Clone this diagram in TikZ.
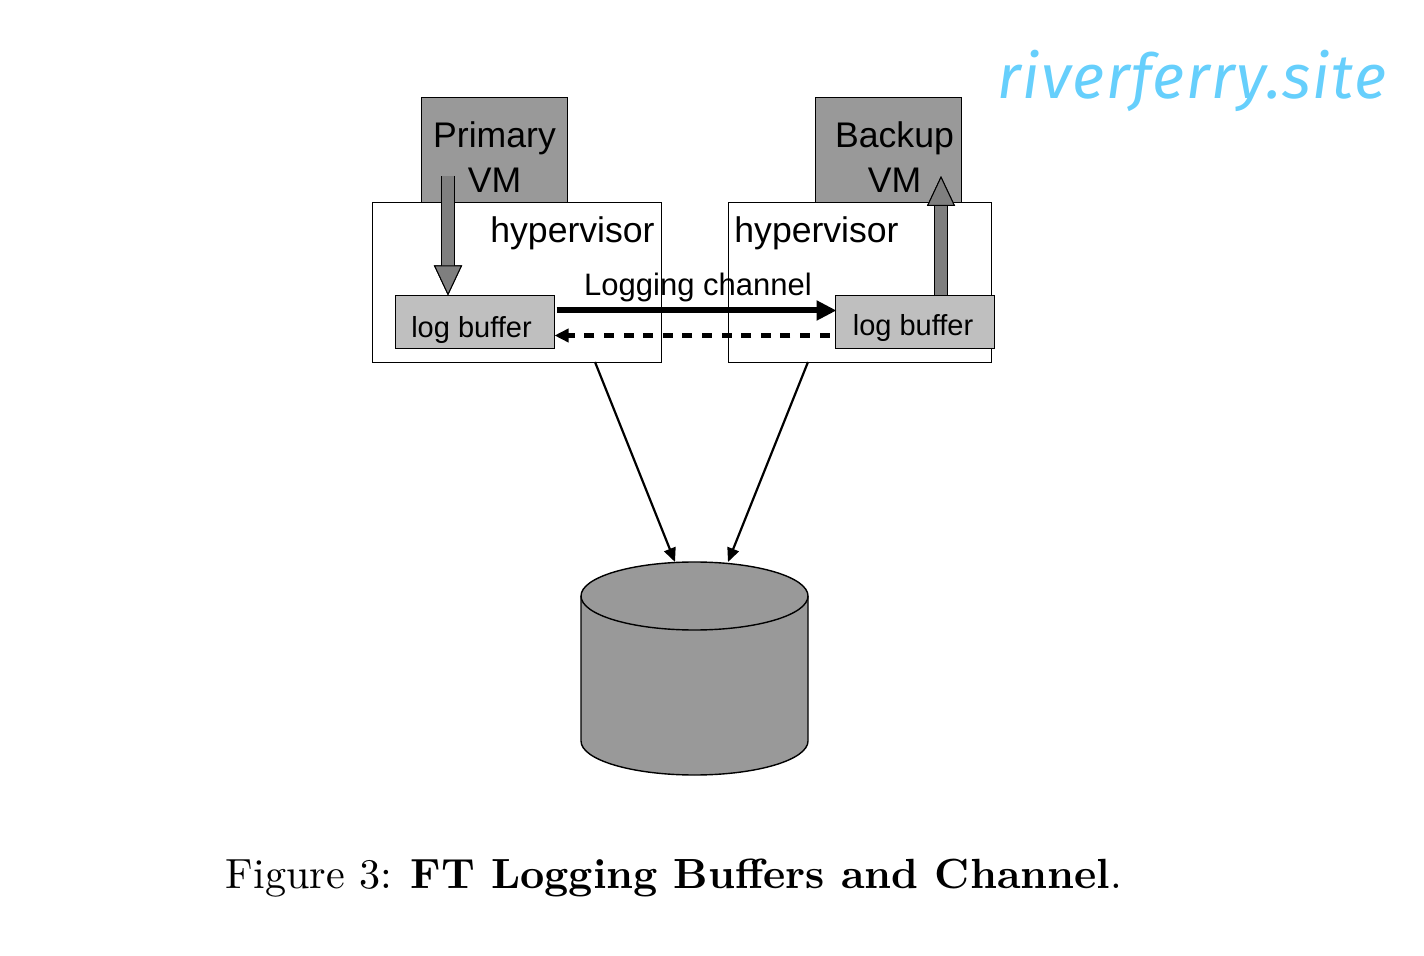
\documentclass[tikz,border=0pt]{standalone}
\usepackage{fontspec}
\usepackage{tikz}
\usetikzlibrary{arrows.meta,calc,positioning}
\newfontfamily\labelfont{Liberation Sans}
\newfontfamily\markfont[LetterSpace=2.5]{Fira Sans}
\definecolor{VmGray}{HTML}{999999}
\definecolor{BufferGray}{HTML}{BFBFBF}
\definecolor{FlowGray}{HTML}{7F7F7F}
\definecolor{MarkBlue}{HTML}{66CFFC}
\tikzset{
  vmbox/.style={
    draw=black,
    fill=VmGray,
    line width=0.5pt,
    minimum width=73.25pt,
    minimum height=52.5pt,
    inner sep=0pt
  },
  hyperbox/.style={
    draw=black,
    fill=white,
    line width=0.5pt,
    minimum height=80pt,
    inner sep=0pt
  },
  bufferbox/.style={
    draw=black,
    fill=BufferGray,
    line width=0.5pt,
    minimum width=79.5pt,
    minimum height=26.5pt,
    inner sep=0pt
  },
  bigtext/.style={font=\labelfont\fontsize{17.8}{22.5}\selectfont, align=center, inner sep=0pt},
  smalltext/.style={font=\labelfont\fontsize{14.5}{17}\selectfont, inner sep=0pt},
  blockflow/.style={
    draw=FlowGray,
    line width=6pt,
    preaction={draw=black, line width=7pt},
    -{Triangle[length=15pt,width=14pt,line width=0.5pt,color=black,fill=FlowGray]}
  },
  diskarrow/.style={
    draw=black,
    line width=1.1pt,
    -{Triangle[length=7pt,width=6pt]}
  }
}

\begin{document}
\begin{tikzpicture}[x=0.5pt,y=-0.5pt]
  \useasboundingbox (0,0) rectangle (1424,956);
  \node[vmbox] (primary) at (494.5,150) {};
  \node[vmbox] (backup) at (888.5,150) {};
  \node[hyperbox, minimum width=144.5pt] (hyperL) at (516.5,282.5) {};
  \node[hyperbox, minimum width=131.5pt] (hyperR) at (859.5,282.5) {};
  \node[bigtext] (primarytext) at (494.5,157) {Primary\\VM};
  \node[bigtext] (backuptext) at (894.5,157) {Backup\\VM};
  \node[bigtext, anchor=base east] (hyperLtext) at (655,243) {hypervisor};
  \node[bigtext, anchor=base west] (hyperRtext) at (734,243) {hypervisor};
  \node[bufferbox] (bufL) at (474.5,322.5) {};
  \node[bufferbox] (bufR) at (914.5,322.5) {};
  \node[smalltext, anchor=base] (bufLtext) at (471.5,338) {log buffer};
  \node[smalltext, anchor=base] (bufRtext) at (913,336) {log buffer};
  \node[font=\labelfont\fontsize{15.5}{18}\selectfont, inner sep=0pt, anchor=base] (channel) at (698,296) {Logging channel};
  % flows in and out of the VMs
  \coordinate (primaryout) at (448,176);
  \coordinate (backupin) at (941,176);
  \draw[blockflow] (primaryout) -- (primaryout |- bufL.north);
  \draw[blockflow] (backupin |- bufR.north) -- (backupin);
  % the channel itself
  \draw[line width=3pt, -{Triangle[length=10pt,width=9.5pt]}] ([yshift=6pt,xshift=1pt]bufL.east) -- ([yshift=6pt,xshift=1pt]bufR.west);
  \draw[line width=2.4pt, dash pattern=on 5pt off 4.8pt, -{Triangle[length=7pt,width=6.5pt]}] ([yshift=-6.5pt,xshift=-2.5pt]bufR.west) -- ([yshift=-6.5pt]bufL.east);
  % disk
  \coordinate (disk) at (694.5,562);
  \filldraw[fill=VmGray, draw=black, line width=0.7pt]
    (581,596) -- (581,741) arc[start angle=180, end angle=360, x radius=56.75pt, y radius=17pt]
    -- (808,596) arc[start angle=0, end angle=180, x radius=56.75pt, y radius=17pt] -- cycle;
  \draw[line width=0.7pt] (581,596) arc[start angle=180, end angle=360, x radius=56.75pt, y radius=17pt];
  \coordinate (logoutL) at (595,362);
  \coordinate (logoutR) at (808,362);
  \draw[diskarrow] (logoutL) -- ([xshift=-9.75pt]disk);
  \draw[diskarrow] (logoutR) -- ([xshift=16.75pt]disk);
  \node[anchor=base west, inner sep=0pt, scale=2.11, transform shape] (caption) at (225,888) {Figure 3: \textbf{FT Logging Buffers and Channel}.};
  \node[anchor=base west, inner sep=0pt, text=MarkBlue, font=\markfont\itshape\fontsize{31}{34}\selectfont] (mark) at (997,99) {riverferry.site};
\end{tikzpicture}
\end{document}
